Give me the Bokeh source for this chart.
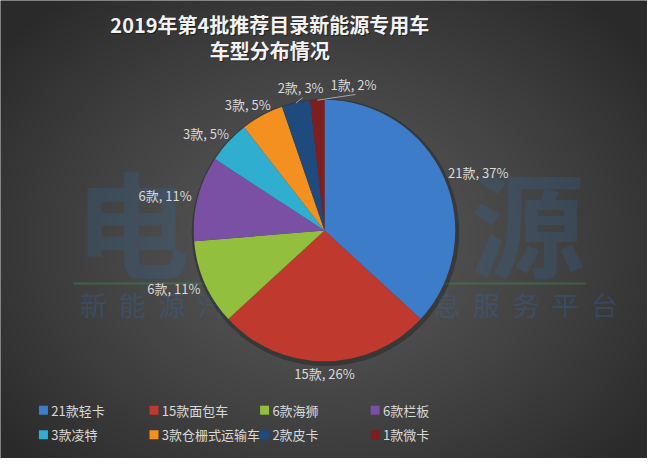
import numpy as np
from bokeh.plotting import figure
from bokeh.models import Range1d
from bokeh.core.properties import value
from bokeh.embed import file_html
from bokeh.resources import INLINE

# ---------------- data ----------------
title_lines = ["2019年第4批推荐目录新能源专用车", "车型分布情况"]
categories = ["轻卡", "面包车", "海狮", "栏板", "凌特", "仓栅式运输车", "皮卡", "微卡"]
counts = [21, 15, 6, 6, 3, 3, 2, 1]
percents = [37, 26, 11, 11, 5, 5, 3, 2]
colors = ["#3D7CC9", "#C0392F", "#93BF3E", "#7A50A4", "#2FAED0", "#F4901F", "#1F4A7D", "#7E1E1E"]
watermark_logo = ["电", "车", "资", "源"]
watermark_line = "新能源汽车一站式信息服务平台"

FONT = "Noto Sans CJK SC"
W, H = 647, 458          # page window 663x474 minus 8px margins
RW, RH = 663, 474        # reference canvas coordinates


def Y(yref):
    """reference pixel row -> data y (data y grows upward)"""
    return RH - yref


p = figure(width=W, height=H, x_range=Range1d(0, RW), y_range=Range1d(0, RH),
           output_backend="svg", toolbar_location=None, min_border=0)
p.axis.visible = False
p.grid.visible = False
p.outline_line_color = None
p.background_fill_color = "#404040"
p.border_fill_color = "#404040"

# ---------------- radial gradient background ----------------
nx, ny = W, H
xs = (np.arange(nx) + 0.5) * RW / nx
ys_ref = RH - (np.arange(ny) + 0.5) * RH / ny
XX, YY = np.meshgrid(xs, ys_ref)
d = np.sqrt(((XX - 330) / 420.0) ** 2 + ((YY - 250) / 330.0) ** 2)
d = np.clip(d, 0, 1)
g = (88 - 46 * d ** 1.3).astype(np.uint32)
img = (255 << 24) | (g << 16) | (g << 8) | g
p.image_rgba(image=[img.view(np.uint32)], x=0, y=0, dw=RW, dh=RH)

# ---------------- watermark ----------------
logo_colors = ["#2f6db3", "#2f9a55", "#2f6db3", "#2f6db3"]
for i, ch in enumerate(watermark_logo):
    p.text(x=[135 + i * 135], y=[Y(226)], text=[ch], text_font=value(FONT),
           text_font_size="115px", text_font_style="bold", text_align="center",
           text_baseline="middle", text_color=logo_colors[i], text_alpha=0.2)
p.segment(x0=[75], y0=[Y(293)], x1=[600], y1=[Y(293)], line_color="#3aa04a",
          line_alpha=0.35, line_width=2)
for i, ch in enumerate(watermark_line):
    p.text(x=[95 + i * 40.3], y=[Y(315)], text=[ch], text_font=value(FONT),
           text_font_size="27px", text_align="center", text_baseline="middle",
           text_color="#2f6db3", text_alpha=0.28)

# ---------------- pie ----------------
cx, cy, R = 332, Y(238), 134
vals = np.array(counts, dtype=float)
frac = vals / vals.sum()
cum = np.cumsum(frac)
prev = np.concatenate([[0], cum[:-1]])
start = np.pi / 2 - 2 * np.pi * prev
end = np.pi / 2 - 2 * np.pi * cum
Rpx = R * W / RW

p.circle(x=[cx + 1], y=[cy - 2], radius=Rpx + 3, radius_units="screen",
         fill_color="black", fill_alpha=0.25, line_color=None)
p.wedge(x=cx, y=cy, radius=Rpx, radius_units="screen", start_angle=list(start),
        end_angle=list(end), direction="clock", fill_color=colors, line_color=None)

# ---------------- data labels ----------------
labels = [f"{c}款, {pc}%" for c, pc in zip(counts, percents)]
fs = 13
pad = 7
placed = []
for i, lab in enumerate(labels):
    mid = (start[i] + end[i]) / 2
    c, s = np.cos(mid), np.sin(mid)
    n_ascii = sum(1 for ch in lab if ord(ch) < 128)
    w = n_ascii * 0.54 * fs + (len(lab) - n_ascii) * fs
    h = fs + 2
    ax, ay = cx + (R + pad) * c, cy + (R + pad) * s
    lx, ly = ax + w / 2 * c, ay + h / 2 * s
    leader = False
    for (px, py, pw) in placed:
        if abs(ly - py) < h and abs(lx - px) < (w + pw) / 2:
            lx = px + (w + pw) / 2 + 6
            ly = ly + 3
            leader = True
    placed.append((lx, ly, w))
    if leader:
        ex, ey = cx + R * c, cy + R * s
        p.segment(x0=[ex], y0=[ey + 1], x1=[lx + 2], y1=[ly - h / 2 - 3],
                  line_color="#a6a6a6", line_width=1)
    p.text(x=[lx], y=[ly], text=[lab], text_font=value(FONT), text_font_size=f"{fs}px",
           text_align="center", text_baseline="middle", text_color="#d9d9d9")

# ---------------- title ----------------
for k, line in enumerate(title_lines):
    yy = Y(25 + k * 27)
    p.text(x=[277], y=[yy - 1], text=[line], text_font=value(FONT), text_font_size="20px",
           text_font_style="bold", text_align="center", text_baseline="middle",
           text_color="black", text_alpha=0.45)
    p.text(x=[276], y=[yy], text=[line], text_font=value(FONT), text_font_size="20px",
           text_font_style="bold", text_align="center", text_baseline="middle",
           text_color="#f2f2f2")

# ---------------- legend ----------------
for i, (c, cat) in enumerate(zip(counts, categories)):
    row, col = divmod(i, 4)
    sx = 44 + col * 113.3
    sy = Y(424 + row * 25.5)
    p.rect(x=[sx], y=[sy], width=9, height=9, width_units="screen", height_units="screen",
           fill_color=colors[i], line_color=None)
    p.text(x=[sx + 8], y=[sy], text=[f"{c}款{cat}"], text_font=value(FONT),
           text_font_size="13px", text_align="left", text_baseline="middle",
           text_color="#d9d9d9")

open("out.html", "w").write(file_html(p, INLINE))
